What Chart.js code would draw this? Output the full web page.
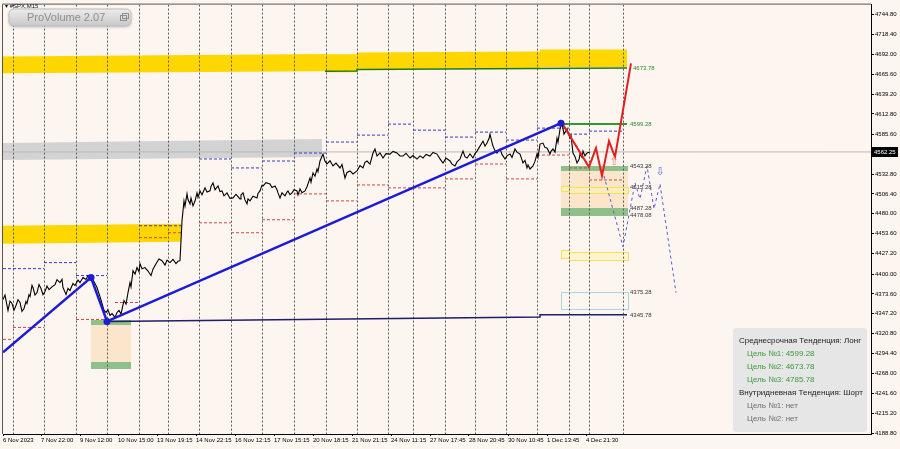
<!DOCTYPE html>
<html>
<head>
<meta charset="utf-8">
<script src="https://cdn.jsdelivr.net/npm/chart.js@4.4.1/dist/chart.umd.min.js"></script>
<style>
html, body { margin: 0; padding: 0; background: #fdf5ef; }
canvas { display: block; }
</style>
</head>
<body>
<canvas id="chart" width="900" height="449"></canvas>
<script>
// close prices, x = bar slot on the chart
const priceX = [3, 5, 8, 10, 12, 14, 16, 18, 20, 22,
  24, 26, 27, 29, 30, 32, 33, 35, 37, 39,
  41, 43, 45, 47, 49, 52, 55, 57, 60, 62,
  63, 65, 66, 68, 70, 73, 75, 78, 80, 83,
  86, 88, 91, 94, 97, 100, 102, 104, 106, 108,
  110, 112, 115, 117, 119, 121, 124, 126, 128, 130,
  131, 133, 135, 137, 139, 140, 142, 145, 148, 151,
  153, 156, 159, 162, 165, 167, 170, 173, 176, 178,
  180, 181, 182, 184, 185, 187, 188, 190, 191, 193,
  195, 197, 198, 200, 202, 205, 207, 210, 211, 213,
  215, 218, 220, 222, 224, 227, 230, 233, 236, 240,
  241, 243, 245, 247, 248, 250, 253, 257, 258, 260,
  262, 263, 266, 270, 272, 275, 277, 278, 280, 282,
  285, 287, 288, 290, 292, 294, 297, 298, 300, 302,
  305, 307, 310, 311, 313, 315, 317, 318, 320, 323,
  325, 327, 330, 333, 336, 340, 342, 345, 347, 350,
  353, 357, 360, 363, 365, 367, 370, 373, 375, 377,
  380, 383, 386, 390, 393, 397, 400, 403, 406, 410,
  413, 417, 420, 423, 426, 430, 433, 437, 440, 443,
  446, 450, 452, 455, 457, 460, 463, 465, 467, 470,
  473, 475, 477, 480, 483, 485, 487, 489, 490, 492,
  493, 495, 497, 500, 502, 505, 507, 510, 512, 515,
  517, 520, 523, 525, 527, 528, 530, 533, 535, 537,
  538, 540, 543, 545, 547, 550, 551, 553, 555, 557,
  558, 560, 562, 564, 567, 570, 571, 573, 575, 577,
  579, 580, 582, 583, 585, 587, 590];
const priceY = [4366.2, 4372.0, 4351.6, 4364.0, 4360.9, 4352.0, 4358.2, 4366.0, 4362.2, 4350.5,
  4354.3, 4363.5, 4360.9, 4372.5, 4370.2, 4385.0, 4382.1, 4372.0, 4375.4, 4386.0,
  4380.7, 4372.5, 4376.8, 4384.0, 4379.4, 4383.0, 4386.0, 4392.5, 4388.7, 4393.0,
  4382.1, 4376.0, 4372.8, 4381.0, 4378.1, 4387.5, 4384.7, 4392.0, 4388.7, 4395.5,
  4392.7, 4398.0, 4395.3, 4390.0, 4382.1, 4370.0, 4360.9, 4352.0, 4349.0, 4352.5,
  4345.0, 4347.5, 4342.4, 4349.0, 4351.6, 4347.0, 4364.9, 4360.0, 4375.4, 4388.7,
  4383.0, 4404.6, 4400.0, 4408.6, 4403.0, 4413.8, 4407.0, 4408.6, 4404.0, 4398.0,
  4406.5, 4413.8, 4420.0, 4417.8, 4412.0, 4418.5, 4415.2, 4419.5, 4413.8, 4417.0,
  4417.8, 4444.3, 4470.8, 4497.2, 4490.0, 4506.5, 4499.0, 4493.3, 4501.0, 4490.6,
  4497.0, 4507.8, 4502.0, 4510.5, 4505.5, 4514.5, 4509.0, 4510.5, 4516.5, 4521.1,
  4512.0, 4517.1, 4509.5, 4510.5, 4504.0, 4507.8, 4500.5, 4501.2, 4506.0, 4499.9,
  4505.0, 4507.8, 4498.5, 4493.3, 4500.0, 4497.2, 4503.5, 4501.2, 4507.0, 4510.5,
  4518.0, 4517.1, 4521.5, 4519.7, 4515.0, 4517.1, 4512.0, 4507.8, 4501.2, 4508.0,
  4503.9, 4509.0, 4510.5, 4505.5, 4507.8, 4512.0, 4510.5, 4505.0, 4513.1, 4508.0,
  4510.5, 4516.0, 4527.7, 4522.0, 4534.3, 4530.0, 4539.6, 4536.0, 4550.2, 4559.4,
  4550.0, 4546.3, 4550.5, 4543.6, 4547.5, 4541.0, 4545.5, 4527.7, 4535.0, 4537.0,
  4533.0, 4537.0, 4544.0, 4541.0, 4548.5, 4550.2, 4546.0, 4560.8, 4566.1, 4556.8,
  4561.0, 4554.2, 4560.0, 4559.4, 4563.0, 4560.8, 4557.0, 4556.8, 4560.5, 4554.2,
  4557.5, 4552.8, 4557.0, 4554.2, 4559.0, 4556.8, 4561.5, 4559.4, 4553.0, 4547.6,
  4554.0, 4550.2, 4546.0, 4543.6, 4549.0, 4552.8, 4563.4, 4556.0, 4554.2, 4559.5,
  4554.2, 4560.0, 4563.4, 4570.0, 4576.6, 4570.0, 4574.0, 4580.0, 4585.9, 4575.0,
  4570.0, 4564.0, 4560.8, 4566.1, 4559.0, 4552.8, 4557.0, 4559.4, 4555.0, 4566.1,
  4562.0, 4559.4, 4547.6, 4551.0, 4541.0, 4545.0, 4539.6, 4543.6, 4550.0, 4559.4,
  4555.0, 4572.7, 4574.0, 4568.0, 4567.4, 4559.4, 4563.0, 4566.1, 4562.0, 4580.6,
  4575.0, 4592.6, 4600.5, 4585.9, 4592.6, 4580.6, 4584.0, 4560.8, 4556.0, 4547.6,
  4552.0, 4559.4, 4555.0, 4563.4, 4557.0, 4560.8, 4562.25];
const bidPrice = 4562.25;

// zigzag trend, forecast path and alternative path
const trendX = [3, 91, 107, 561];
const trendY = [4296.0, 4395.3, 4337.1, 4600.5];
const forecastX = [562, 589, 596, 602, 609, 615, 631];
const forecastY = [4600.5, 4542.3, 4567.4, 4530.4, 4576.6, 4555.5, 4680.0];
const altX = [604, 623, 635, 640, 647, 654, 660, 676];
const altY = [4530.4, 4436.4, 4521.1, 4499.9, 4543.6, 4486.7, 4519.8, 4375.2];

// target and support lines
const target2X = [325, 357, 357, 627];
const target2Y = [4669.3, 4669.8, 4671.8, 4673.78];
const target1X = [562, 627];
const target1Y = [4599.28, 4599.28];
const supportX = [107, 540, 540, 627];
const supportY = [4337.1, 4343.0, 4345.78, 4345.78];

// daily levels [from, to, price]
const upperLevels = [[3, 44, 4407.2], [44, 76, 4415.2], [76, 107, 4398.0], [139, 181, 4464.2], [199, 231, 4552.9], [231, 262, 4541.0],
  [262, 294, 4550.2], [294, 326, 4560.8], [326, 357, 4575.4], [357, 388, 4584.6], [388, 413, 4599.2], [413, 445, 4591.2], [445, 475, 4582.0],
  [475, 506, 4588.6], [506, 537, 4578.0], [537, 569, 4593.9], [569, 589, 4585.9], [589, 623, 4589.9]];
const lowerLevels = [[3, 13, 4313.2], [13, 44, 4329.1], [76, 107, 4339.7], [115, 139, 4362.2], [139, 168, 4448.3], [168, 181, 4454.9],
  [199, 231, 4468.1], [231, 262, 4454.9], [262, 294, 4472.1], [294, 326, 4506.5], [326, 357, 4497.2], [357, 388, 4518.4], [388, 445, 4514.5],
  [445, 475, 4526.4], [475, 506, 4546.2], [506, 537, 4526.4], [537, 569, 4558.1], [569, 589, 4541.0], [589, 623, 4525.0]];

// bands [x0, x1, top0, bottom0, top1, bottom1]
const yellowBands = [[3, 325, 4689.2, 4666.7, 4692.5, 4669.3], [325, 357, 4692.0, 4668.0, 4692.0, 4668.0],
  [357, 540, 4694.5, 4672.0, 4695.8, 4673.3], [540, 627, 4698.5, 4674.6, 4698.5, 4674.6], [3, 181, 4464.2, 4440.3, 4466.8, 4442.9]];
const greyBands = [[3, 322, 4574.0, 4551.5, 4579.3, 4555.5]];
// boxes [x0, x1, top, bottom]
const peachZones = [[561, 628, 4543.6, 4477.4], [91, 131, 4338.4, 4273.5]];
const greenZones = [[561, 628, 4543.6, 4537.0], [561, 628, 4487.3, 4477.4], [91, 131, 4338.4, 4331.8], [91, 131, 4282.8, 4273.5]];
const yellowBoxes = [[561, 569, 4516.6, 4509.9], [569, 628, 4515.3, 4507.3], [561, 569, 4432.4, 4421.8], [569, 628, 4429.8, 4419.1]];
const blueBoxes = [[561, 628, 4376.8, 4353.0]];

const levelLabels = [['4673.78', 4673.78, 1], ['4599.28', 4599.28, 1], ['4543.28', 4543.28, 0], ['4515.28', 4515.28, 0],
  ['4487.28', 4487.28, 0], ['4478.08', 4478.08, 0], ['4375.28', 4375.28, 0], ['4345.78', 4345.78, 0]];
const arrowUp = [614, 4549];
const arrowDown = [660, 4535];

const daySeparators = [13, 44, 76, 107, 139, 168, 199, 231, 262, 294, 326, 357, 388, 413, 445, 475, 506, 537, 569, 589, 623];
const timePos = [3, 41, 80, 118, 157, 196, 235, 274, 313, 352, 391, 430, 469, 508, 547, 586];
const timeLabels = ['6 Nov 2023', '7 Nov 22:00', '9 Nov 12:00', '10 Nov 15:00', '13 Nov 19:15', '14 Nov 22:15', '16 Nov 12:15',
  '17 Nov 15:15', '20 Nov 18:15', '21 Nov 21:15', '24 Nov 11:15', '27 Nov 17:45', '28 Nov 20:45', '30 Nov 10:45', '1 Dec 13:45', '4 Dec 21:30'];
const yTicks = [4744.8, 4718.4, 4692.0, 4665.6, 4639.2, 4612.8, 4585.6, 4532.8, 4506.4, 4480.0, 4453.6, 4427.2, 4400.0, 4373.6,
  4347.2, 4320.8, 4294.4, 4268.0, 4241.6, 4215.2, 4188.8];
const yTickLabels = ['4744.80', '4718.40', '4692.00', '4665.60', '4639.20', '4612.80', '4585.60', '4532.80', '4506.40', '4480.00', '4453.60',
  '4427.20', '4400.00', '4373.60', '4347.20', '4320.80', '4294.40', '4268.00', '4241.60', '4215.20', '4188.80'];

const infoLines = [
  ['Среднесрочная Тенденция: Лонг', 0],
  ['Цель №1: 4599.28', 1],
  ['Цель №2: 4673.78', 1],
  ['Цель №3: 4785.78', 1],
  ['Внутридневная Тенденция: Шорт', 0],
  ['Цель №1: нет', 2],
  ['Цель №2: нет', 2]
];

const FONT = "'Liberation Sans', Arial, sans-serif";
Chart.defaults.font.family = FONT;

function pts(xs, ys) {
  return xs.map((x, i) => ({ x: x, y: ys[i] }));
}

function levelPts(list) {
  const out = [];
  list.forEach(([a, b, v]) => { out.push({ x: a, y: v }, { x: b, y: v }, { x: b, y: null }); });
  return out;
}

const overlay = {
  id: 'overlay',
  beforeDatasetsDraw(chart) {
    const { ctx, chartArea: a, scales: { x, y } } = chart;
    const px = v => x.getPixelForValue(v);
    const py = v => y.getPixelForValue(v);
    ctx.save();
    ctx.beginPath();
    ctx.rect(a.left, a.top, a.width, a.height);
    ctx.clip();

    const quad = (q, color) => {
      ctx.fillStyle = color;
      ctx.beginPath();
      ctx.moveTo(px(q[0]), py(q[2]));
      ctx.lineTo(px(q[1]), py(q[4]));
      ctx.lineTo(px(q[1]), py(q[5]));
      ctx.lineTo(px(q[0]), py(q[3]));
      ctx.closePath();
      ctx.fill();
    };
    yellowBands.forEach(q => quad(q, '#ffd700'));
    greyBands.forEach(q => quad(q, '#d3d3d3'));

    const box = (r, fill, stroke) => {
      const x0 = Math.round(px(r[0])), x1 = Math.round(px(r[1]));
      const y0 = Math.round(py(r[2])), y1 = Math.round(py(r[3]));
      if (fill) { ctx.fillStyle = fill; ctx.fillRect(x0, y0, x1 - x0, y1 - y0); }
      if (stroke) { ctx.strokeStyle = stroke; ctx.lineWidth = 1; ctx.strokeRect(x0 + 0.5, y0 + 0.5, x1 - x0, y1 - y0); }
    };
    peachZones.forEach(r => box(r, '#fbe6cb'));
    greenZones.forEach(r => box(r, '#8fbf8a'));
    yellowBoxes.forEach(r => box(r, 'rgba(255,244,170,0.45)', '#f2e25a'));
    blueBoxes.forEach(r => box(r, null, '#a9d6e0'));

    // day separators
    ctx.strokeStyle = '#5a5a5a';
    ctx.lineWidth = 1;
    ctx.setLineDash([2, 2]);
    daySeparators.forEach(d => {
      const xx = Math.round(px(d)) + 0.5;
      ctx.beginPath();
      ctx.moveTo(xx, a.top);
      ctx.lineTo(xx, a.bottom);
      ctx.stroke();
    });
    ctx.restore();
  },
  afterDatasetsDraw(chart) {
    const { ctx, chartArea: a, scales: { x, y } } = chart;
    const px = v => x.getPixelForValue(v);
    const py = v => y.getPixelForValue(v);
    ctx.save();

    // level labels
    ctx.font = '6px ' + FONT;
    ctx.textBaseline = 'middle';
    ctx.textAlign = 'left';
    levelLabels.forEach(([t, v, g]) => {
      ctx.fillStyle = g ? '#2e8b2e' : '#3a3a3a';
      ctx.fillText(t, px(g && v > 4650 ? 633 : 630), py(v));
    });

    // arrows
    ctx.font = '11px DejaVu Sans';
    ctx.textAlign = 'center';
    ctx.fillStyle = '#ec7d7d';
    ctx.fillText('⇧', px(arrowUp[0]), py(arrowUp[1]));
    ctx.fillStyle = '#5b73d8';
    ctx.fillText('⇩', px(arrowDown[0]), py(arrowDown[1]));

    // frame top / left
    ctx.strokeStyle = '#555';
    ctx.lineWidth = 1;
    ctx.beginPath();
    ctx.moveTo(a.left - 0.5, a.bottom);
    ctx.lineTo(a.left - 0.5, a.top - 0.5);
    ctx.lineTo(a.right, a.top - 0.5);
    ctx.stroke();

    // symbol caption
    ctx.font = '6px ' + FONT;
    ctx.textAlign = 'left';
    ctx.fillStyle = '#111';
    ctx.fillText('▾ #SPX,M15', 5, 6.5);

    // ProVolume button
    ctx.shadowColor = 'rgba(0,0,0,0.25)';
    ctx.shadowBlur = 3;
    ctx.shadowOffsetY = 1;
    const g = ctx.createLinearGradient(0, 9, 0, 26);
    g.addColorStop(0, '#ececec');
    g.addColorStop(1, '#c8c8c8');
    ctx.fillStyle = g;
    ctx.beginPath();
    ctx.roundRect(9, 9, 122, 17, 5);
    ctx.fill();
    ctx.shadowColor = 'transparent';
    ctx.strokeStyle = '#bdbdbd';
    ctx.stroke();
    ctx.font = '11px ' + FONT;
    ctx.fillStyle = '#8e8e8e';
    ctx.fillText('ProVolume 2.07', 27, 18);
    ctx.strokeStyle = '#8e8e8e';
    ctx.lineWidth = 1;
    ctx.strokeRect(120.5, 15.5, 6, 5);
    ctx.strokeRect(122.5, 13.5, 6, 5);

    // info panel
    ctx.fillStyle = '#e6e6e6';
    ctx.beginPath();
    ctx.roundRect(733, 328, 134, 104, 3);
    ctx.fill();
    ctx.font = '8px ' + FONT;
    infoLines.forEach(([t, kind], i) => {
      ctx.fillStyle = kind === 1 ? '#3c9a3c' : kind === 2 ? '#6e6e6e' : '#222';
      ctx.fillText(t, kind === 0 ? 739 : 747, 341 + i * 13);
    });

    // bid price tag
    const by = Math.round(py(bidPrice));
    ctx.fillStyle = '#000';
    ctx.fillRect(a.right + 1, by - 5, 26, 10);
    ctx.fillStyle = '#fff';
    ctx.font = '6px ' + FONT;
    ctx.fillText(bidPrice.toFixed(2), a.right + 3, by + 0.5);
    ctx.restore();
  }
};

new Chart(document.getElementById('chart'), {
  type: 'line',
  data: {
    datasets: [
      { data: pts(trendX, trendY), borderColor: '#1c1cd8', backgroundColor: '#1c1cd8', borderWidth: 2.5,
        pointRadius: [0, 3.5, 3.5, 3.5], pointBorderWidth: 0, order: 1 },
      { data: pts(forecastX, forecastY), borderColor: '#e22020', borderWidth: 2, pointRadius: 0, order: 2 },
      { data: pts(altX, altY), borderColor: '#5c5cd0', borderWidth: 1, borderDash: [3, 3], pointRadius: 0, order: 3 },
      { data: pts(priceX, priceY), borderColor: '#000', borderWidth: 1.1, pointRadius: 0, order: 4 },
      { data: pts(target2X, target2Y), borderColor: '#1f7a1f', borderWidth: 1.5, pointRadius: 0, order: 5 },
      { data: pts(target1X, target1Y), borderColor: '#2f9a2f', borderWidth: 2, pointRadius: 0, order: 5 },
      { data: pts(supportX, supportY), borderColor: '#1e1e6e', borderWidth: 1.5, pointRadius: 0, order: 6 },
      { data: levelPts(upperLevels), borderColor: '#3a3ac8', borderWidth: 1, borderDash: [3, 2], pointRadius: 0, order: 7 },
      { data: levelPts(lowerLevels), borderColor: '#cc4848', borderWidth: 1, borderDash: [3, 2], pointRadius: 0, order: 8 },
      { data: [{ x: 3, y: bidPrice }, { x: 871, y: bidPrice }], borderColor: '#b8b8b8', borderWidth: 1, pointRadius: 0, order: 9 }
    ]
  },
  options: {
    responsive: false,
    animation: false,
    devicePixelRatio: 1,
    layout: { padding: { left: 3, top: 3, right: 0, bottom: 0 }, autoPadding: false },
    plugins: { legend: { display: false }, tooltip: { enabled: false } },
    elements: { line: { tension: 0 } },
    scales: {
      x: {
        type: 'linear',
        min: 3,
        max: 871,
        afterBuildTicks: axis => { axis.ticks = timePos.map(v => ({ value: v })); },
        afterFit: axis => { axis.height = 15; },
        grid: { drawOnChartArea: false, drawTicks: true, tickLength: 2, color: '#000' },
        border: { color: '#000' },
        ticks: {
          autoSkip: false, maxRotation: 0, align: 'start', padding: 1,
          color: '#000', font: { size: 6 },
          callback: v => timeLabels[timePos.indexOf(v)] || ''
        }
      },
      y: {
        position: 'right',
        min: 4187.5,
        max: 4758.0,
        afterBuildTicks: axis => { axis.ticks = yTicks.map(v => ({ value: v })); },
        afterFit: axis => { axis.width = 29; },
        grid: { drawOnChartArea: false, drawTicks: true, tickLength: 3, color: '#000' },
        border: { color: '#000' },
        ticks: {
          padding: 1, color: '#000', font: { size: 6 },
          callback: (v, i) => yTickLabels[i]
        }
      }
    }
  },
  plugins: [overlay]
});
</script>
</body>
</html>
